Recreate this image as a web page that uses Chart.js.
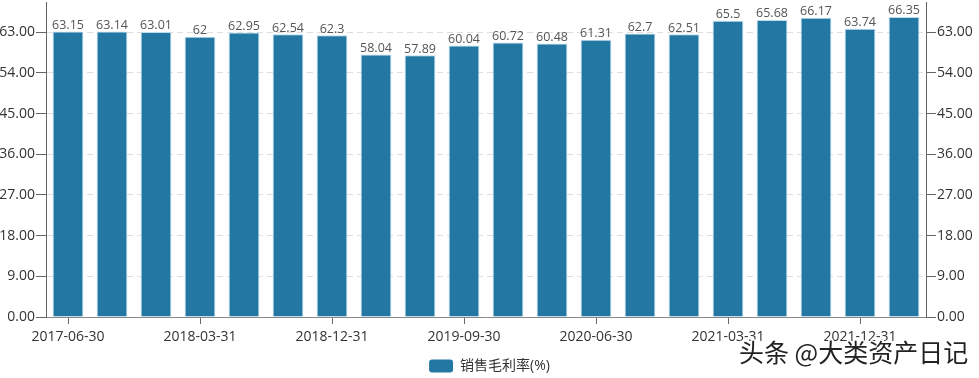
<!DOCTYPE html>
<html>
<head>
<meta charset="utf-8">
<script src="https://cdn.jsdelivr.net/npm/chart.js@4"></script>
<style>
  html, body { margin: 0; padding: 0; background: #fff; }
  #wrap { width: 979px; height: 378px; position: relative; }
</style>
</head>
<body>
<div id="wrap"><canvas id="chart-margin"></canvas></div>
<script>
const dates = ['2017-06-30', '2017-09-30', '2017-12-31', '2018-03-31', '2018-06-30', '2018-09-30',
  '2018-12-31', '2019-03-31', '2019-06-30', '2019-09-30', '2019-12-31', '2020-03-31',
  '2020-06-30', '2020-09-30', '2020-12-31', '2021-03-31', '2021-06-30', '2021-09-30',
  '2021-12-31', '2022-03-31'];
const grossMargin = [63.15, 63.14, 63.01, 62, 62.95, 62.54, 62.3, 58.04, 57.89, 60.04,
  60.72, 60.48, 61.31, 62.7, 62.51, 65.5, 65.68, 66.17, 63.74, 66.35];
const yTicks = [0, 9, 18, 27, 36, 45, 54, 63];
const seriesName = '销售毛利率(%)';
const watermark = '头条 @大类资产日记';

const FONT = '"Open Sans", "Noto Sans CJK SC", sans-serif';
Chart.defaults.font.family = FONT;
Chart.defaults.font.size = 14;
Chart.defaults.color = '#333';

function yAxis(position, width) {
  return {
    position,
    min: 0,
    max: 69.67,
    afterBuildTicks: axis => { axis.ticks = yTicks.map(v => ({ value: v })); },
    afterFit: axis => {
      axis.width = width;
      axis.paddingTop = 0;
      axis.paddingBottom = 0;
    },
    ticks: { padding: 1, color: '#333', callback: v => Number(v).toFixed(2) },
    grid: {
      drawOnChartArea: position === 'left',
      color: '#dedede',
      tickColor: '#666',
      tickLength: 10,
      tickBorderDash: []
    },
    border: { color: '#666', dash: [6, 4] }
  };
}

// value labels above every bar
const barLabels = {
  id: 'barLabels',
  afterDatasetsDraw(chart) {
    const { ctx } = chart;
    const meta = chart.getDatasetMeta(0);
    ctx.save();
    ctx.font = '12.5px ' + FONT;
    ctx.fillStyle = '#555';
    ctx.textAlign = 'center';
    ctx.textBaseline = 'bottom';
    meta.data.forEach((bar, i) => {
      ctx.fillText(String(grossMargin[i]), bar.x, bar.y);
    });
    ctx.restore();
  }
};

const stamp = {
  id: 'stamp',
  afterDraw(chart) {
    const { ctx } = chart;
    ctx.save();
    ctx.font = '25px "Noto Sans CJK SC", sans-serif';
    ctx.textAlign = 'left';
    ctx.textBaseline = 'middle';
    ctx.lineWidth = 3;
    ctx.strokeStyle = '#fff';
    ctx.strokeText(watermark, 739, 352);
    ctx.fillStyle = '#222';
    ctx.fillText(watermark, 739, 352);
    ctx.restore();
  }
};

new Chart(document.getElementById('chart-margin'), {
  type: 'bar',
  data: {
    labels: dates,
    datasets: [{
      label: seriesName,
      data: grossMargin,
      backgroundColor: '#2378a3',
      borderColor: '#b9dcee',
      borderWidth: 1,
      barPercentage: 0.7,
      categoryPercentage: 1
    }]
  },
  options: {
    responsive: true,
    maintainAspectRatio: false,
    animation: false,
    layout: { padding: { top: 2, left: 0, right: 0, bottom: -5 } },
    plugins: {
      legend: {
        position: 'bottom',
        labels: {
          boxWidth: 24,
          boxHeight: 13,
          useBorderRadius: true,
          borderRadius: 3,
          padding: 5,
          color: '#333',
          font: { size: 14 },
          generateLabels: chart => Chart.defaults.plugins.legend.labels.generateLabels(chart)
            .map(l => ({ ...l, lineWidth: 0 }))
        }
      },
      tooltip: { enabled: false }
    },
    scales: {
      x: {
        afterFit: axis => { axis.height = 37; },
        ticks: {
          autoSkip: false,
          maxRotation: 0,
          padding: 5,
          color: '#333',
          callback: (v, i) => (i % 3 === 0 ? dates[i] : '')
        },
        grid: {
          offset: false,
          drawOnChartArea: false,
          tickLength: 7,
          tickColor: c => (c.index % 3 === 0 ? '#666' : 'rgba(0,0,0,0)')
        },
        border: { color: '#888' }
      },
      y: yAxis('left', 46),
      y2: yAxis('right', 53)
    }
  },
  plugins: [barLabels, stamp]
});
</script>
</body>
</html>
